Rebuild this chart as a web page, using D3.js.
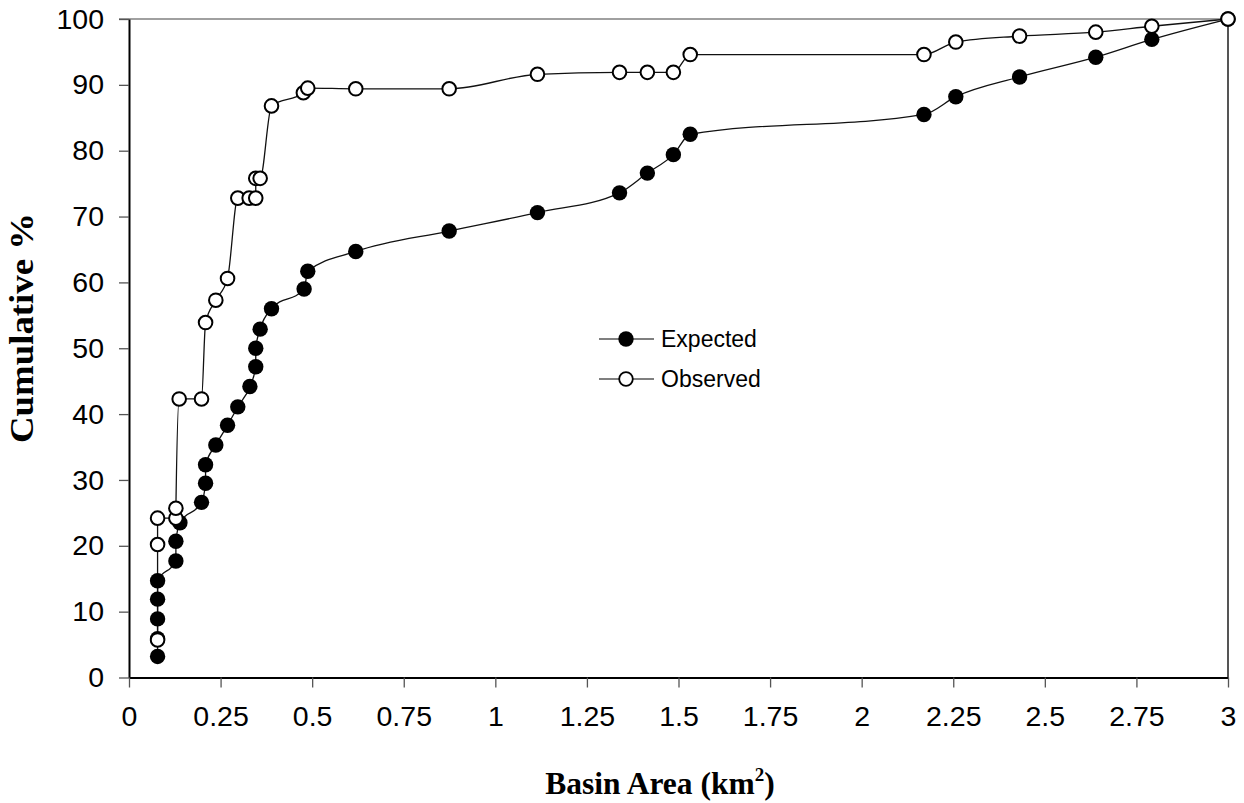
<!DOCTYPE html>
<html>
<head>
<meta charset="utf-8">
<script src="https://cdn.jsdelivr.net/npm/d3@7"></script>
<style>
  html, body { margin: 0; padding: 0; background: #fff; }
  svg { display: block; }
</style>
</head>
<body>
<svg id="chart" width="1244" height="803"></svg>
<script>
// ---- Data ----
const expectedArea = [0.078,0.078,0.078,0.078,0.078,0.128,0.128,0.139,0.198,0.209,0.209,0.237,0.269,0.297,0.330,0.346,0.346,0.358,0.389,0.478,0.488,0.619,0.874,1.115,1.339,1.415,1.486,1.532,2.170,2.257,2.431,2.639,2.792,3.0];
const expectedPct  = [3.2,5.9,8.9,11.9,14.7,17.7,20.7,23.5,26.6,29.5,32.3,35.3,38.3,41.1,44.2,47.2,50.0,52.9,56.0,59.0,61.7,64.7,67.8,70.6,73.6,76.6,79.4,82.5,85.5,88.2,91.2,94.2,96.9,100];

const observedArea = [0.078,0.078,0.078,0.128,0.128,0.137,0.198,0.209,0.237,0.269,0.297,0.328,0.346,0.346,0.358,0.389,0.476,0.488,0.619,0.874,1.115,1.339,1.415,1.486,1.532,2.170,2.257,2.431,2.639,2.792,3.0];
const observedPct  = [5.7,20.2,24.2,24.2,25.7,42.3,42.3,53.9,57.3,60.6,72.8,72.8,72.8,75.8,75.8,86.8,88.8,89.5,89.4,89.4,91.6,91.9,91.9,91.9,94.6,94.6,96.5,97.4,98.0,98.9,100];

const xTickValues = [0,0.25,0.5,0.75,1,1.25,1.5,1.75,2,2.25,2.5,2.75,3];
const xTickLabels = ["0","0.25","0.5","0.75","1","1.25","1.5","1.75","2","2.25","2.5","2.75","3"];
const yTickValues = [0,10,20,30,40,50,60,70,80,90,100];
const yTickLabels = ["0","10","20","30","40","50","60","70","80","90","100"];

const seriesNames = ["Expected","Observed"];
const xTitle = "Basin Area (km";
const yTitle = "Cumulative %";

// ---- Layout ----
const svg = d3.select("#chart");
const mLeft = 129, mRight = 1228, mTop = 19, mBottom = 677.5;

const x = d3.scaleLinear().domain([0, 3]).range([mLeft, mRight]);
const y = d3.scaleLinear().domain([0, 100]).range([mBottom, mTop]);

// top & right border (gray)
svg.append("line").attr("x1", mLeft - 10).attr("x2", mRight).attr("y1", mTop).attr("y2", mTop)
  .attr("stroke", "#808080").attr("stroke-width", 1.5);
svg.append("line").attr("x1", mRight).attr("x2", mRight).attr("y1", mTop).attr("y2", mBottom)
  .attr("stroke", "#555").attr("stroke-width", 2);

// axes
const yAxis = d3.axisLeft(y).tickValues(yTickValues)
  .tickFormat((d, i) => yTickLabels[i]).tickSizeInner(10).tickSizeOuter(0).tickPadding(15);
const gy = svg.append("g").attr("transform", `translate(${mLeft},0)`).call(yAxis);
gy.select(".domain").attr("stroke", "#000").attr("stroke-width", 2);
gy.selectAll(".tick line").attr("stroke", "#555").attr("stroke-width", 1.3);
gy.selectAll(".tick text").attr("font-family", "'Liberation Sans', Arial, sans-serif")
  .attr("font-size", 28.5).attr("fill", "#000");

const xAxis = d3.axisBottom(x).tickValues(xTickValues)
  .tickFormat((d, i) => xTickLabels[i]).tickSizeInner(10).tickSizeOuter(0).tickPadding(18);
const gx = svg.append("g").attr("transform", `translate(0,${mBottom})`).call(xAxis);
gx.select(".domain").attr("stroke", "#000").attr("stroke-width", 2);
gx.selectAll(".tick line").attr("stroke", "#555").attr("stroke-width", 1.3);
gx.selectAll(".tick text").attr("font-family", "'Liberation Sans', Arial, sans-serif")
  .attr("font-size", 28.5).attr("fill", "#000");

// series
const expData = expectedArea.map((a, i) => ({ a, p: expectedPct[i] }));
const obsData = observedArea.map((a, i) => ({ a, p: observedPct[i] }));

const lineGen = d3.line().x(d => x(d.a)).y(d => y(d.p)).curve(d3.curveMonotoneX);

svg.append("path").datum(expData).attr("d", lineGen)
  .attr("fill", "none").attr("stroke", "#111").attr("stroke-width", 1.3);
svg.append("path").datum(obsData).attr("d", lineGen)
  .attr("fill", "none").attr("stroke", "#111").attr("stroke-width", 1.3);

svg.append("g").selectAll("circle").data(expData).join("circle")
  .attr("cx", d => x(d.a)).attr("cy", d => y(d.p)).attr("r", 7.7)
  .attr("fill", "#000");
svg.append("g").selectAll("circle").data(obsData).join("circle")
  .attr("cx", d => x(d.a)).attr("cy", d => y(d.p)).attr("r", 6.8)
  .attr("fill", "#fff").attr("stroke", "#000").attr("stroke-width", 2);

// legend
const legend = svg.append("g");
const legY = [339, 379];
seriesNames.forEach((name, i) => {
  legend.append("line").attr("x1", 599).attr("x2", 654).attr("y1", legY[i]).attr("y2", legY[i])
    .attr("stroke", "#555").attr("stroke-width", 1.3);
  const c = legend.append("circle").attr("cx", 626).attr("cy", legY[i]);
  if (i === 0) c.attr("r", 7.7).attr("fill", "#000");
  else c.attr("r", 6.8).attr("fill", "#fff").attr("stroke", "#000").attr("stroke-width", 1.8);
  legend.append("text").attr("x", 661).attr("y", legY[i]).attr("dy", "0.36em")
    .attr("font-family", "'Liberation Sans', Arial, sans-serif").attr("font-size", 23)
    .attr("fill", "#000").text(name);
});

// axis titles
const xt = svg.append("text").attr("x", 660).attr("y", 794).attr("text-anchor", "middle")
  .attr("font-family", "'Liberation Serif', 'Times New Roman', serif").attr("font-weight", "bold")
  .attr("font-size", 31.5).attr("fill", "#000");
xt.append("tspan").text(xTitle);
xt.append("tspan").attr("font-size", 19).attr("dy", -13).text("2");
xt.append("tspan").attr("dy", 13).text(")");

svg.append("text").attr("transform", "translate(33,328) rotate(-90)").attr("text-anchor", "middle")
  .attr("font-family", "'Liberation Serif', 'Times New Roman', serif").attr("font-weight", "bold")
  .attr("font-size", 33).attr("textLength", 230).attr("lengthAdjust", "spacingAndGlyphs")
  .attr("fill", "#000").text(yTitle);
</script>
</body>
</html>
